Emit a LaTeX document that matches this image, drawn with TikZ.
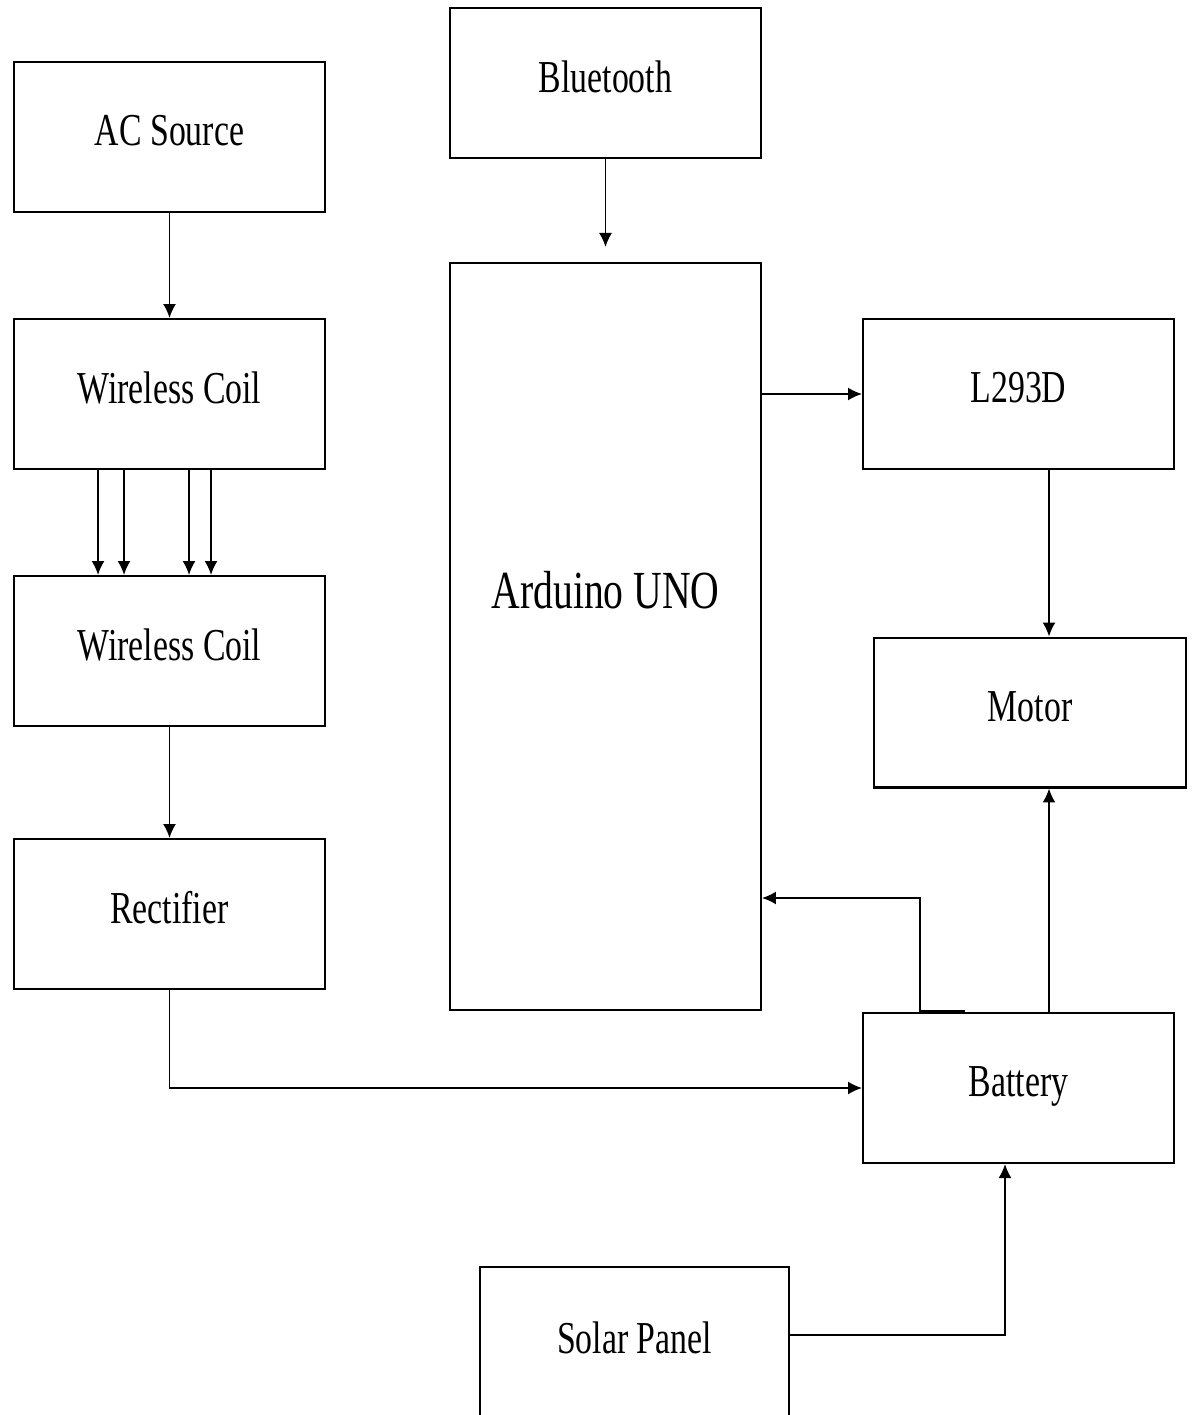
\documentclass[tikz,border=0pt]{standalone}
\usepackage{fontspec}
\setmainfont{Liberation Serif}[FakeStretch=0.74]
\usetikzlibrary{arrows.meta,calc}
\tikzset{
    block/.style = {draw, line width=1.15pt, minimum width=6.22cm, minimum height=3cm,
                    inner sep=0pt, text depth=0.25cm, font=\fontsize{26}{30}\selectfont},
    arrow/.style = {-{Latex[length=2.8mm,width=2.6mm]}, line width=1pt}
}

\begin{document}
\begin{tikzpicture}[x=0.02cm, y=-0.02cm]

    \useasboundingbox (0,0) rectangle (1193,1415);

    % ---------- charging side ----------
    \node[block] (ac)    at (169.5,137) {AC Source};
    \node[block] (coilA) at (169.5,394) {Wireless Coil};
    \node[block] (coilB) at (169.5,651) {Wireless Coil};
    \node[block] (rect)  at (169.5,914) {Rectifier};

    % ---------- control ----------
    \node[block] (bt) at (605.5,83) {Bluetooth};
    \node[block, minimum height=14.94cm] (ard) at (605.5,636.5) {};
    \node[font=\fontsize{30.5}{34}\selectfont] (ardLbl) at (605.5,590) {Arduino UNO};

    % ---------- drive and power ----------
    \node[block] (l293) at (1018.5,394) {L293D};
    \node[block, minimum width=6.24cm] (motor) at (1030,712.5) {Motor};
    \node[block] (batt) at (1018.5,1088) {Battery};
    \node[block, minimum width=6.18cm, minimum height=3.06cm] (solar) at (634.5,1343.5) {Solar Panel};

    % =================================================
    % connectors
    % =================================================
    \draw[arrow] (ac.south) -- (coilA.north);

    % coupling between the two coils
    \foreach \dx in {85,111,176,198}
        \draw[arrow] ($(coilA.south west)+(\dx,0)$) -- ($(coilB.north west)+(\dx,0)$);

    \draw[arrow] (coilB.south) -- (rect.north);

    \coordinate (btEnd) at (605.5,247);
    \draw[arrow] (bt.south) -- (btEnd);

    \draw[arrow] (ard.east |- l293.west) -- (l293.west);

    \coordinate (pwr) at (1049,0);
    \draw[arrow] (l293.south -| pwr) -- (motor.north -| pwr);
    \draw[arrow] (batt.north -| pwr) -- (motor.south -| pwr);

    % battery feeds the Arduino
    \coordinate (fb) at (920,898);
    \draw[arrow] (batt.north -| fb) |- (ard.east |- fb);
    \draw[line width=2.2pt] (batt.north -| fb) -- ++(45,0);

    \draw[arrow] (rect.south) |- (batt.west);

    \coordinate (sp) at (1005,1335);
    \draw[arrow] (solar.east |- sp) -| (batt.south -| sp);

\end{tikzpicture}
\end{document}
